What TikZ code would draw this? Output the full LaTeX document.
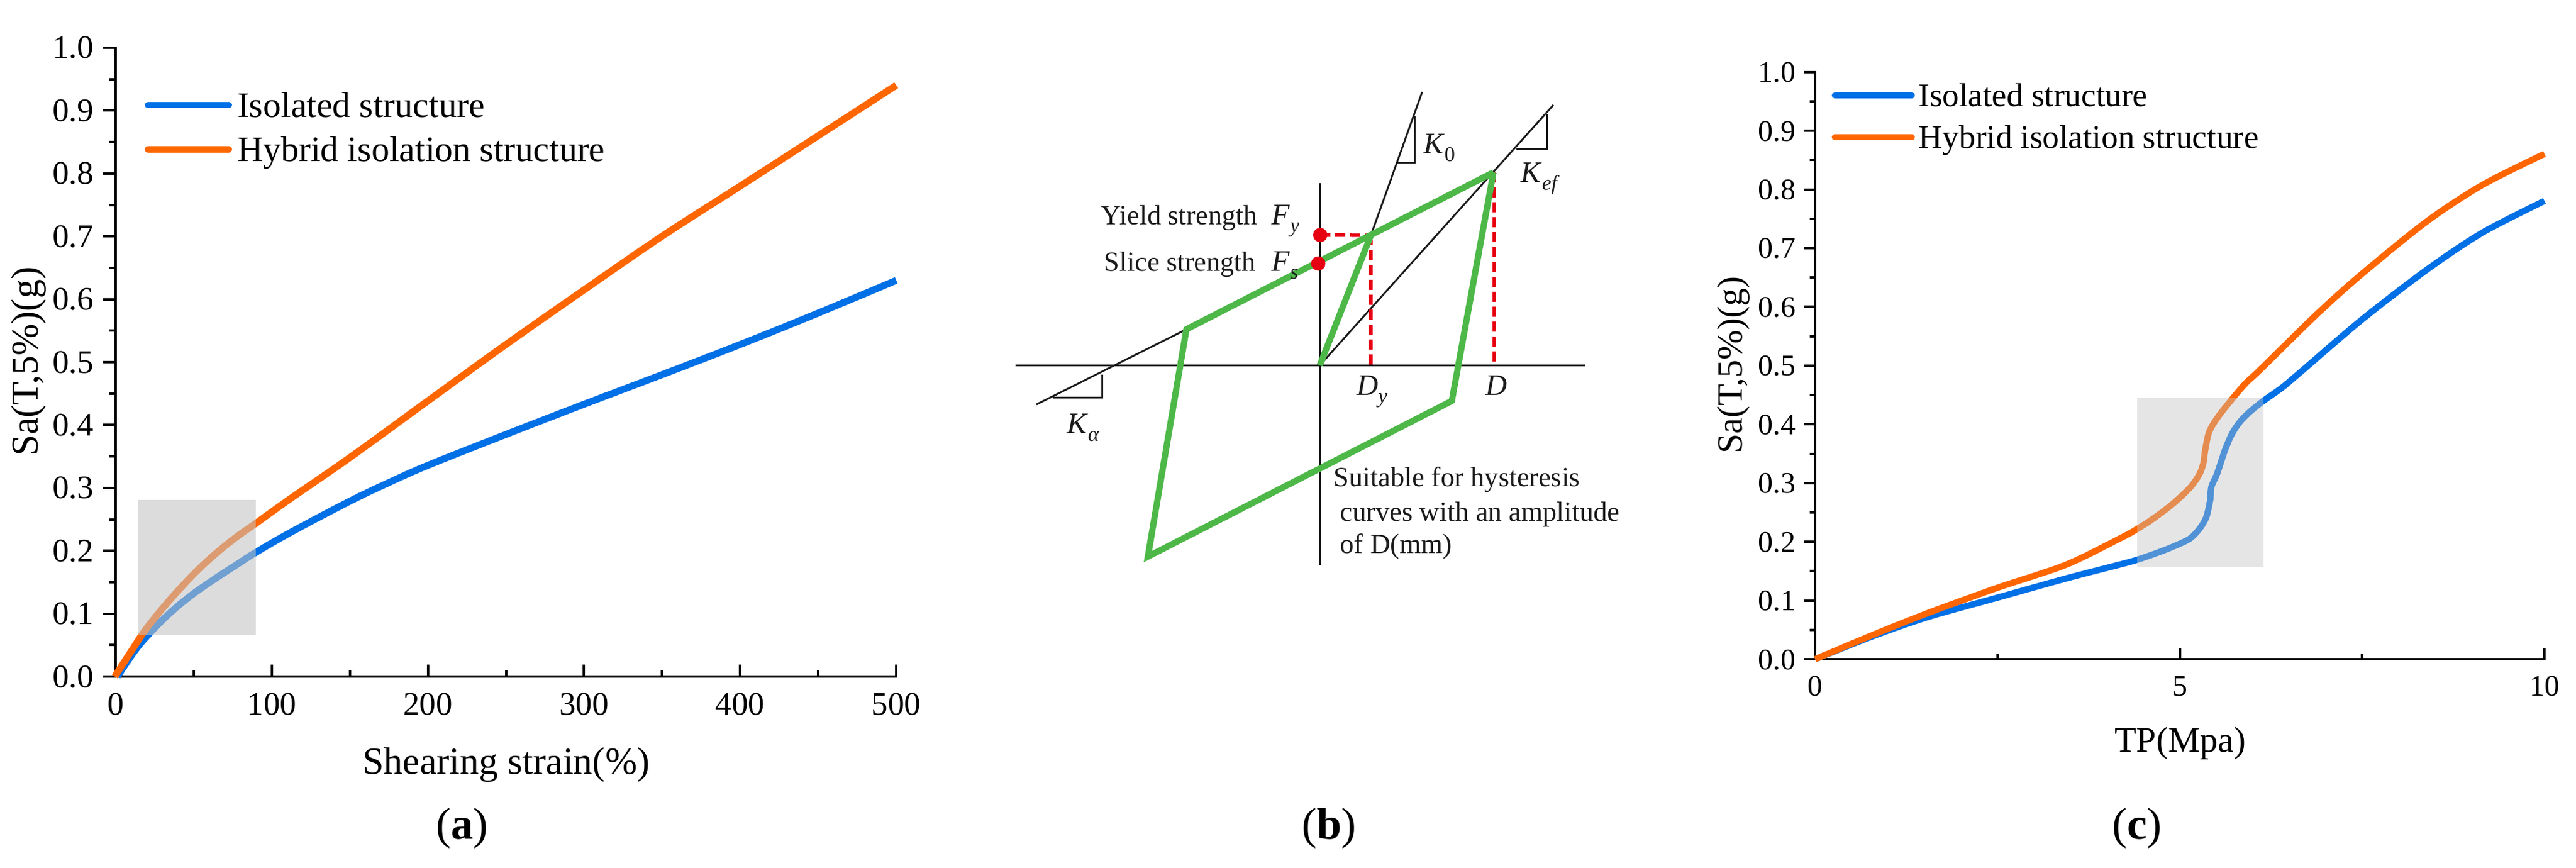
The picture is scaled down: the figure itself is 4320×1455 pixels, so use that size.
\documentclass[tikz,border=0pt]{standalone}
\usepackage{fontspec}
\setmainfont{Liberation Serif}
\definecolor{cblue}{HTML}{0070E6}
\definecolor{corange}{HTML}{FF6600}
\definecolor{cgreen}{HTML}{4DB848}
\definecolor{cred}{HTML}{E60012}
\definecolor{ink}{HTML}{1A1A1A}
\newcommand{\fs}[1]{\fontsize{#1}{#1}\selectfont}
\newcommand{\vsub}[2]{{\fs{50}\textit{#1}}\raisebox{-0.28em}{\fs{35}#2}}
\tikzset{
  axisline/.style={line width=4pt,black,line cap=rect},
  tickline/.style={line width=4pt,black},
  curvea/.style={line width=11.5pt,line join=round},
  curvec/.style={line width=10.5pt,line join=round},
  legline/.style={line width=10.5pt,line cap=round},
  lbl/.style={inner sep=0pt,outer sep=0pt,text=black},
  thin line/.style={line width=3pt,ink},
  greenloop/.style={line width=10.5pt,cgreen,line join=miter},
  reddash/.style={line width=6pt,cred,dash pattern=on 17pt off 8pt},
  reddot/.style={circle,fill=cred,minimum size=24pt,inner sep=0pt},
  blab/.style={lbl,anchor=base west,text=ink,font=\fs{46.5}}
}
\begin{document}
\begin{tikzpicture}[x=1pt,y=-1pt]
\useasboundingbox (0,0) rectangle (4320,1455);
\fill[white] (0,0) rectangle (4320,1455);

% ---------- panel a ----------
\draw[axisline] (194,80) -- (194,1134) -- (1503,1134);
\foreach \i/\t in {0/0.0,1/0.1,2/0.2,3/0.3,4/0.4,5/0.5,6/0.6,7/0.7,8/0.8,9/0.9,10/1.0}{
  \pgfmathsetmacro{\yy}{1134-105.4*\i}
  \draw[tickline] (173,\yy) -- (194,\yy);
  \node[lbl,anchor=base east,font=\fs{55}] (ay\i) at (157,\yy+18) {\t};
}
\foreach \i in {0,...,9}{
  \pgfmathsetmacro{\yy}{1134-105.4*(\i+0.5)}
  \draw[tickline] (183,\yy) -- (194,\yy);
}
\foreach \i/\t in {0/0,1/100,2/200,3/300,4/400,5/500}{
  \pgfmathsetmacro{\xx}{194+261.8*\i}
  \draw[tickline] (\xx,1114) -- (\xx,1134);
  \node[lbl,anchor=base,font=\fs{55}] (ax\i) at (\xx,1198) {\t};
}
\foreach \i in {0,...,4}{
  \pgfmathsetmacro{\xx}{194+261.8*(\i+0.5)}
  \draw[tickline] (\xx,1123) -- (\xx,1134);
}
\node[lbl,rotate=90,anchor=center,font=\fs{64}] (aylab) at (48,606) {Sa(T,5\%)(g)};
\node[lbl,anchor=base,font=\fs{64}] (axlab) at (849,1297) {Shearing strain(\%)};
\draw[curvea,cblue] plot[smooth,tension=0.6] coordinates {(197,1134)(226.7,1090)(253.3,1059)(286.7,1026)(323.3,996)(363.3,968.3)(396.7,946.7)(429,926)(490,891)(587,840)(652,809)(717.6,780)(848.5,728.2)(979.4,677.6)(1110.3,628)(1241.2,577.5)(1372.1,524.8)(1503,470)};
\draw[curvea,corange] plot[smooth,tension=0.6] coordinates {(192.5,1134)(223.3,1086.7)(243.3,1056.7)(273.3,1019)(303.3,985)(333.3,954)(363.3,926.7)(396.7,900)(429,877.3)(488.3,835)(586.7,767)(717.6,672)(848.5,577.5)(979.4,486)(1110.3,396)(1241.2,312)(1372.1,227.6)(1503,143)};
\fill[fill=black!23.5,opacity=0.575] (231,838) rectangle (429,1064);
\draw[legline,cblue] (248,176) -- (384,176);
\draw[legline,corange] (248,250.5) -- (384,250.5);
\node[lbl,anchor=base west,font=\fs{60}] (aleg1) at (398,197) {Isolated structure};
\node[lbl,anchor=base west,font=\fs{60}] (aleg2) at (398,271) {Hybrid isolation structure};
\node[lbl,anchor=base,font=\fs{75}] (acap) at (775,1406) {(\textbf{a})};

% ---------- panel b ----------
\draw[thin line] (1703,612.4) -- (2658,612.4);
\draw[thin line] (2213.3,307) -- (2213.3,947);
\coordinate (org) at (2213.3,612.4);
\coordinate (yld) at (2299,394.4);
\coordinate (top) at (2504.5,289);
\coordinate (lowr) at (2434.7,672);
\coordinate (botl) at (1925,933);
\coordinate (uppl) at (1989.6,552);
\draw[thin line] (yld) -- (2385,154);
\draw[thin line] (org) -- (2605,176);
\draw[thin line] (uppl) -- (1738,678);
\draw[thin line] (2372.4,195) -- (2372.4,272.5) -- (2343,272.5) ;
\draw[thin line] (2594.6,191) -- (2594.6,249.3) -- (2543.3,249.3);
\draw[thin line] (1848,628) -- (1848,666.3) -- (1766,666.3);
\draw[reddash] (2214,394) -- (yld);
\draw[reddash] (2299,394) -- (2299,612.4);
\draw[reddash] (2506,289) -- (2506,612.4);
\draw[greenloop] (org) -- (yld);
\draw[greenloop] (top) -- (lowr) -- (botl) -- (uppl) -- (top);
\node[reddot] (fydot) at (2214,394) {};
\node[reddot] (fsdot) at (2210.7,441.7) {};
\node[blab] (yl) at (1846.5,376) {Yield strength};
\node[blab] (fyl) at (2132.6,376) {\vsub{F}{\textit{y}}};
\node[blab] (sl) at (1851.7,454) {Slice strength};
\node[blab] (fsl) at (2132.6,454) {\vsub{F}{\textit{s}}};
\node[blab] (k0l) at (2387,257.5) {\vsub{K}{0}};
\node[blab] (kefl) at (2550.6,305.6) {\vsub{K}{\textit{ef}}};
\node[blab] (kal) at (1789,726) {\vsub{K}{\textit{α}}};
\node[blab] (dyl) at (2275,662) {\vsub{D}{\textit{y}}};
\node[blab] (dl) at (2491,662) {\fs{50}\textit{D}};
\node[blab] (s1) at (2236.7,815) {Suitable for hysteresis};
\node[blab] (s2) at (2247.7,873) {curves with an amplitude};
\node[blab] (s3) at (2247.7,927.5) {of D(mm)};
\node[lbl,anchor=base,font=\fs{75}] (bcap) at (2229,1406) {(\textbf{b})};

% ---------- panel c ----------
\draw[axisline] (3044,120.7) -- (3044,1105) -- (4267,1105);
\foreach \i/\t in {0/0.0,1/0.1,2/0.2,3/0.3,4/0.4,5/0.5,6/0.6,7/0.7,8/0.8,9/0.9,10/1.0}{
  \pgfmathsetmacro{\yy}{1105-98.43*\i}
  \draw[tickline] (3025,\yy) -- (3044,\yy);
  \node[lbl,anchor=base east,font=\fs{50}] (cy\i) at (3011,\yy+17) {\t};
}
\foreach \i in {0,...,9}{
  \pgfmathsetmacro{\yy}{1105-98.43*(\i+0.5)}
  \draw[tickline] (3035,\yy) -- (3044,\yy);
}
\foreach \i/\t in {0/0,1/5,2/10}{
  \pgfmathsetmacro{\xx}{3044+611.5*\i}
  \draw[tickline] (\xx,1086) -- (\xx,1105);
  \node[lbl,anchor=base,font=\fs{50}] (cx\i) at (\xx,1166) {\t};
}
\foreach \i in {0,1}{
  \pgfmathsetmacro{\xx}{3044+611.5*(\i+0.5)}
  \draw[tickline] (\xx,1096) -- (\xx,1105);
}
\node[lbl,rotate=90,anchor=center,font=\fs{60}] (cylab) at (2907,612) {Sa(T,5\%)(g)};
\node[lbl,anchor=base,font=\fs{60}] (cxlab) at (3656,1260) {TP(Mpa)};
\draw[curvec,cblue] plot[smooth,tension=0.5] coordinates {(3044,1105)(3139,1067)(3232,1034.6)(3349,1002)(3465,969.6)(3560,945)(3584,938.3)(3613.3,928.3)(3643.3,916.7)(3671.7,903.3)(3688.3,886.7)(3700,866.7)(3706.7,836.7)(3708.3,816.7)(3718.3,793.3)(3731.7,753.3)(3743.3,726.7)(3756.7,706.7)(3773.3,690)(3796,671.7)(3826.7,650)(3860,622)(3960.6,536)(4070,452)(4163.5,389.7)(4267,336.8)};
\draw[curvec,corange] plot[smooth,tension=0.5] coordinates {(3044,1105)(3139,1065)(3232,1028)(3349,985.5)(3465,946.5)(3560,900)(3584,886.7)(3610,870)(3643.3,845)(3673.3,816.7)(3688.3,795)(3695,776.7)(3698.3,753.3)(3705,723.3)(3720,698.3)(3745,666.7)(3766.7,641.7)(3790,620)(3884,528)(3960,460)(4070,371)(4163,310)(4267,258)};
\fill[fill=black!24,opacity=0.42] (3584,667) rectangle (3796,950);
\draw[legline,cblue] (3077,160) -- (3206,160);
\draw[legline,corange] (3077,230) -- (3206,230);
\node[lbl,anchor=base west,font=\fs{55.5}] (cleg1) at (3217.5,179) {Isolated structure};
\node[lbl,anchor=base west,font=\fs{55.5}] (cleg2) at (3217.5,249) {Hybrid isolation structure};
\node[lbl,anchor=base,font=\fs{75}] (ccap) at (3584,1406) {(\textbf{c})};
\end{tikzpicture}
\end{document}
